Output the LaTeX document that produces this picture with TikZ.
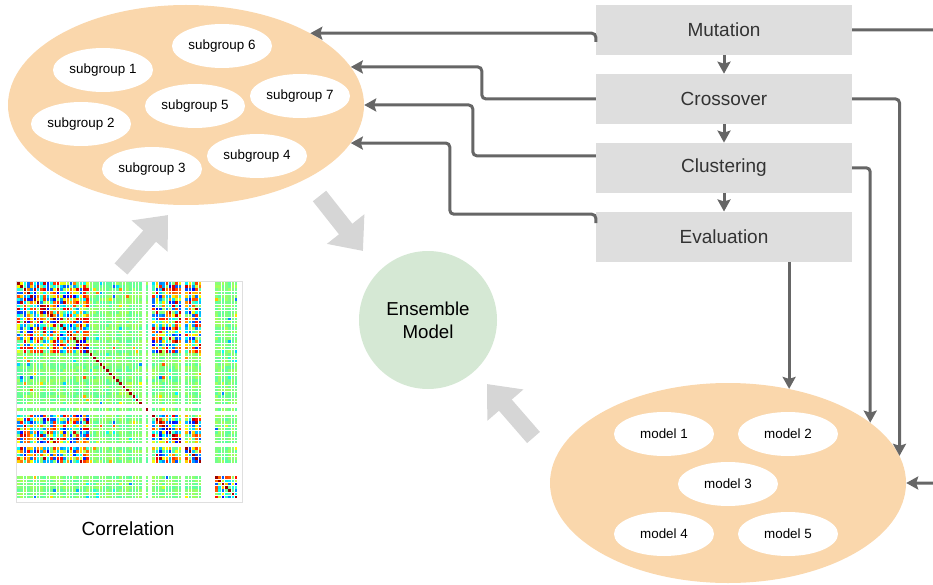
\documentclass[tikz,border=0pt]{standalone}
\usepackage{fontspec}
\setmainfont{Liberation Sans}
\usetikzlibrary{positioning,arrows.meta,shapes.geometric}
\definecolor{boxgray}{HTML}{DEDEDE}
\definecolor{linkgray}{HTML}{666666}
\definecolor{popfill}{HTML}{FAD7AC}
\definecolor{ensfill}{HTML}{D5E8D4}
\definecolor{fatgray}{HTML}{D6D6D6}
\definecolor{txtgray}{HTML}{333333}
% rows/columns of the heat map that stay empty, and the busy blocks
\newcommand\gapq[1]{((#1==38)||(#1==40)||(#1==50)||((#1>55)&&(#1<60))||(#1==67))}
\newcommand\actq[1]{((#1<22)||((#1>40)&&(#1<56)))}
\tikzset{
	stage/.style={fill=boxgray,minimum width=256pt,minimum height=50pt,text=txtgray,font=\fontsize{19}{23}\selectfont},
	pool/.style={ellipse,fill=popfill,minimum width=356pt,minimum height=200pt,inner sep=0pt},
	member/.style={ellipse,fill=white,minimum width=100pt,minimum height=44pt,inner sep=0pt,font=\fontsize{13.4}{16}\selectfont},
	link/.style={draw=linkgray,line width=3pt,rounded corners=4pt,-{Stealth[length=12pt,width=13pt,inset=2pt]}},
	fat/.style={draw=fatgray,line width=17pt,-{Triangle[length=28pt,width=46pt]}}
}
\begin{document}
\begin{tikzpicture}[x=1pt,y=-1pt]
	\useasboundingbox (0,0) rectangle (933,585);
	% subgroups
	\node[pool] (pop) at (186,105) {};
	\node[member] (s6) at (222,46) {subgroup 6};
	\node[member] (s1) at (103,70) {subgroup 1};
	\node[member] (s5) at (195,106) {subgroup 5};
	\node[member] (s7) at (300,96) {subgroup 7};
	\node[member] (s2) at (81,124) {subgroup 2};
	\node[member] (s3) at (152,169) {subgroup 3};
	\node[member] (s4) at (257,156) {subgroup 4};
	% steps
	\node[stage] (mut) at (724,30) {Mutation};
	\node[stage,below=18.5pt of mut] (cro) {Crossover};
	\node[stage,below=18.5pt of cro] (clu) {Clustering};
	\node[stage,below=18.5pt of clu] (eva) {Evaluation};
	% models
	\node[pool] (mod) at (728,483) {};
	\node[member] (m1) at (664,434) {model 1};
	\node[member] (m2) at (788,434) {model 2};
	\node[member] (m3) at (728,484) {model 3};
	\node[member] (m4) at (664,534) {model 4};
	\node[member] (m5) at (788,534) {model 5};
	\node[circle,fill=ensfill,minimum size=138pt,align=center,font=\fontsize{18.7}{23}\selectfont] (ens) at (428,320) {Ensemble\\Model};
	% heat map
	\foreach \i in {0,...,67}{
		\foreach \j in {0,...,67}{
			\pgfmathtruncatemacro\cellgap{\gapq{\i}||\gapq{\j}}
			\ifnum\cellgap=0
				\pgfmathtruncatemacro\kmin{min(\i,\j)}
				\pgfmathtruncatemacro\kmax{max(\i,\j)}
				\pgfmathsetmacro\hra{mod(abs(sin(\kmin*37.13+\kmax*91.71+13)*977.7),1)}
				\pgfmathsetmacro\hrb{mod(abs(cos(\kmin*53.7+\kmax*29.3+7)*733.1),1)}
				\pgfmathsetmacro\hamp{((\actq{\i}&&\actq{\j})||((\i>59)&&(\j>59))) ? 0.42 : ((\hrb<0.05) ? 0.3 : 0.04)}
				\pgfmathsetmacro\htv{(\i==\j) ? 0.97 : min(0.97,0.5+(\hamp>0.4)*0.04+\hamp*(2*\hra-1))}
				\pgfmathsetmacro\hr{min(1,max(0,1.5-abs(4*\htv-3)))}
				\pgfmathsetmacro\hg{min(1,max(0,1.5-abs(4*\htv-2)))}
				\pgfmathsetmacro\hb{min(1,max(0,1.5-abs(4*\htv-1)))}
				\definecolor{cellc}{rgb}{\hr,\hg,\hb}
				\fill[cellc] (17+\j*3.3,282+\i*3.24) rectangle ++(2.6,2.55);
			\fi
		}
	}
	\draw[gray!25,line width=0.6pt] (16.5,281.5) rectangle (242,502);
	\node[font=\fontsize{19}{23}\selectfont] (corr) at (128,529) {Correlation};
	% flow arrows
	\coordinate (f1a) at (121,269); \coordinate (f1b) at (168,215);
	\coordinate (f2a) at (319.5,196); \coordinate (f2b) at (363,251);
	\coordinate (f3a) at (533.5,437.5); \coordinate (f3b) at (487,384);
	\draw[fat] (f1a) -- (f1b);
	\draw[fat] (f2a) -- (f2b);
	\draw[fat] (f3a) -- (f3b);
	% connectors
	\draw[link] (mut) -- (cro);
	\draw[link] (cro) -- (clu);
	\draw[link] (clu) -- (eva);
	\draw[link] ([yshift=-12pt]mut.west) |- (pop.30);
	\draw[link] (cro.west) -- ++(-114,0) |- (pop.13);
	\draw[link] ([yshift=12pt]clu.west) -- ++(-123,0) |- (pop.east);
	\draw[link] ([yshift=13.5pt]eva.west) -- ++(0,-9) -- ++(-146,0) |- (pop.-13);
	\draw[link] (mut.east) -- ++(110,0) |- (mod.east);
	\draw[link] (cro.east) -| (mod.9);
	\draw[link] (clu.east) -| (mod.23);
	\draw[link] (mod.57 |- eva.south) -- (mod.57);
\end{tikzpicture}
\end{document}
